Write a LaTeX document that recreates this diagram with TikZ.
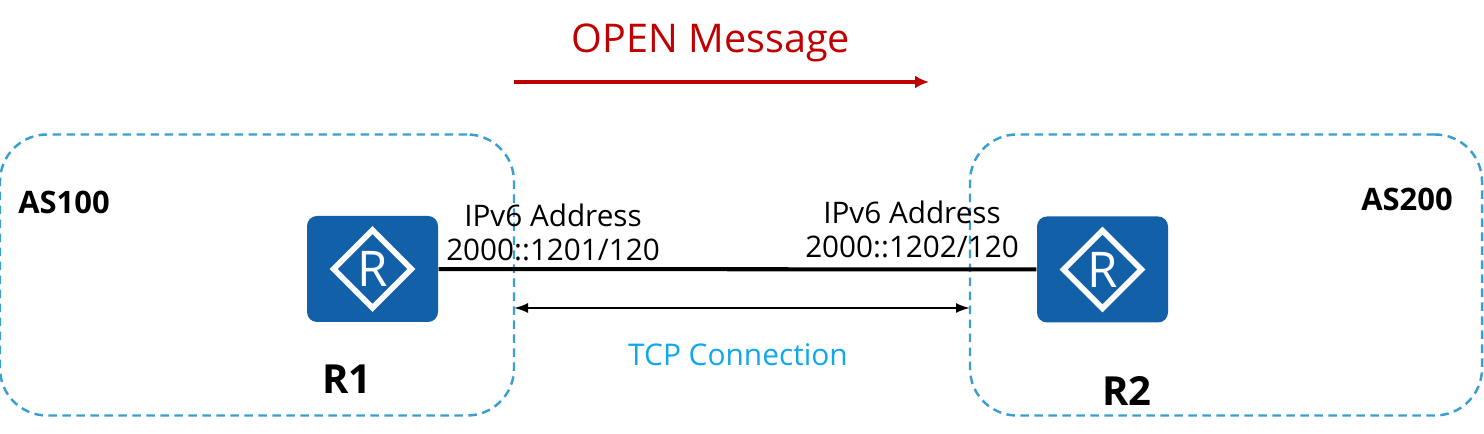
\documentclass[tikz,border=0pt]{standalone}
\usepackage{fontspec}
\setmainfont{Open Sans}
\usetikzlibrary{arrows.meta,shapes.geometric}
\definecolor{Router}{HTML}{1260A8}
\definecolor{Zone}{HTML}{3A9ED0}
\definecolor{Open}{HTML}{C00000}
\definecolor{Tcp}{HTML}{10A8E8}
\tikzset{
  zonebox/.style={rounded corners=4.7mm,draw=Zone,line width=0.7pt,dash pattern=on 0.85mm off 0.55mm,minimum height=2.81cm,inner sep=0pt},
  routerbox/.style={rounded corners=1mm,fill=Router,minimum width=1.31cm,minimum height=1.06cm,inner sep=0pt},
  routermark/.style={diamond,aspect=1,draw=white,line width=1.6pt,minimum size=0.80cm,inner sep=0pt,text=white,font=\fontsize{14}{16}\selectfont},
  addrlabel/.style={inner sep=0pt,font=\fontsize{8.45}{10}\selectfont},
  aslabel/.style={inner sep=0pt,font=\fontsize{8.8}{10}\selectfont\bfseries},
  routerlabel/.style={inner sep=0pt,font=\fontsize{11.4}{13}\selectfont\bfseries},
  linkline/.style={line width=1.15pt,draw=black},
  tcparrow/.style={{Latex[length=1.4mm,width=1mm]}-{Latex[length=1.4mm,width=1mm]},line width=0.6pt,draw=black},
  openarrow/.style={-{Latex[length=1.4mm,width=1.3mm]},line width=1pt,draw=Open},
}
\begin{document}
\begin{tikzpicture}[x=1cm,y=1cm]
    \useasboundingbox (0,0) rectangle (14.84,4.34);

    \node[zonebox,minimum width=5.14cm] (as100) at (2.57,1.59) {};
    \node[zonebox,minimum width=5.12cm] (as200) at (12.26,1.59) {};

    \node[routerbox] (r1) at (3.725,1.65) {};
    \node[routerbox] (r2) at (11.025,1.645) {};
    \node[routermark] (r1mark) at (r1) {R};
    \node[routermark] (r2mark) at (r2) {R};

    \draw[linkline] (r1) -- (r2);

    \coordinate (tcpleft) at (5.14,1.26);
    \coordinate (tcpright) at (9.70,1.26);
    \draw[tcparrow] (tcpleft) -- (tcpright);

    \coordinate (openstart) at (5.14,3.52);
    \coordinate (openend) at (9.29,3.52);
    \draw[openarrow] (openstart) -- (openend);

    \node[text=Open,inner sep=0pt,font=\fontsize{11.25}{13}\selectfont] (openlabel) at (7.11,3.91) {OPEN Message};
    \node[text=Tcp,inner sep=0pt,font=\fontsize{8.5}{10}\selectfont] (tcplabel) at (7.38,0.79) {TCP Connection};

    \node[addrlabel] (addr1) at (5.53,2.19) {IPv6 Address};
    \node[addrlabel] (ip1) at (5.53,1.84) {2000::1201/120};
    \node[addrlabel] (addr2) at (9.12,2.22) {IPv6 Address};
    \node[addrlabel] (ip2) at (9.12,1.87) {2000::1202/120};

    \node[aslabel] (as100label) at (0.64,2.32) {AS100};
    \node[aslabel] (as200label) at (14.07,2.35) {AS200};
    \node[routerlabel] (r1label) at (3.47,0.55) {R1};
    \node[routerlabel] (r2label) at (11.27,0.43) {R2};
  \end{tikzpicture}
\end{document}
